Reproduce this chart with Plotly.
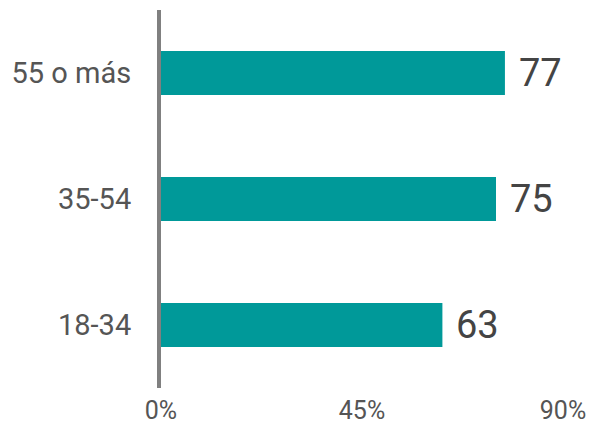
import plotly.graph_objects as go

categories = ["18-34", "35-54", "55 o más"]
values = [63, 75, 77]
tick_vals = [0, 45, 90]
tick_text = ["0%", "45%", "90%"]

fig = go.Figure()
fig.add_trace(go.Bar(
    y=categories, x=values, orientation="h",
    marker=dict(color="#009999", line=dict(width=0)),
    hoverinfo="skip",
))
for c, v in zip(categories, values):
    fig.add_annotation(x=v, y=c, text=str(v), showarrow=False,
                       xanchor="left", yanchor="middle", xshift=12,
                       font=dict(family="Roboto", size=38, color="#444444"))

fig.update_layout(
    width=595, height=430,
    margin=dict(l=153, r=40, t=2, b=50),
    paper_bgcolor="white", plot_bgcolor="white",
    bargap=0.65, showlegend=False,
    font=dict(family="Roboto"),
)
fig.update_xaxes(range=[0, 90], tickvals=tick_vals, ticktext=tick_text,
                 showgrid=False, zeroline=False, showline=False,
                 automargin=False, ticklabelstandoff=5,
                 tickfont=dict(family="Roboto", size=25, color="#555555"))
fig.update_yaxes(range=[-0.5, 2.5], showgrid=False, zeroline=False,
                 showline=True, linewidth=4, linecolor="#808080",
                 automargin=False, ticklabelstandoff=20,
                 tickfont=dict(family="Roboto", size=29, color="#555555"))
fig.write_html("out.html")
